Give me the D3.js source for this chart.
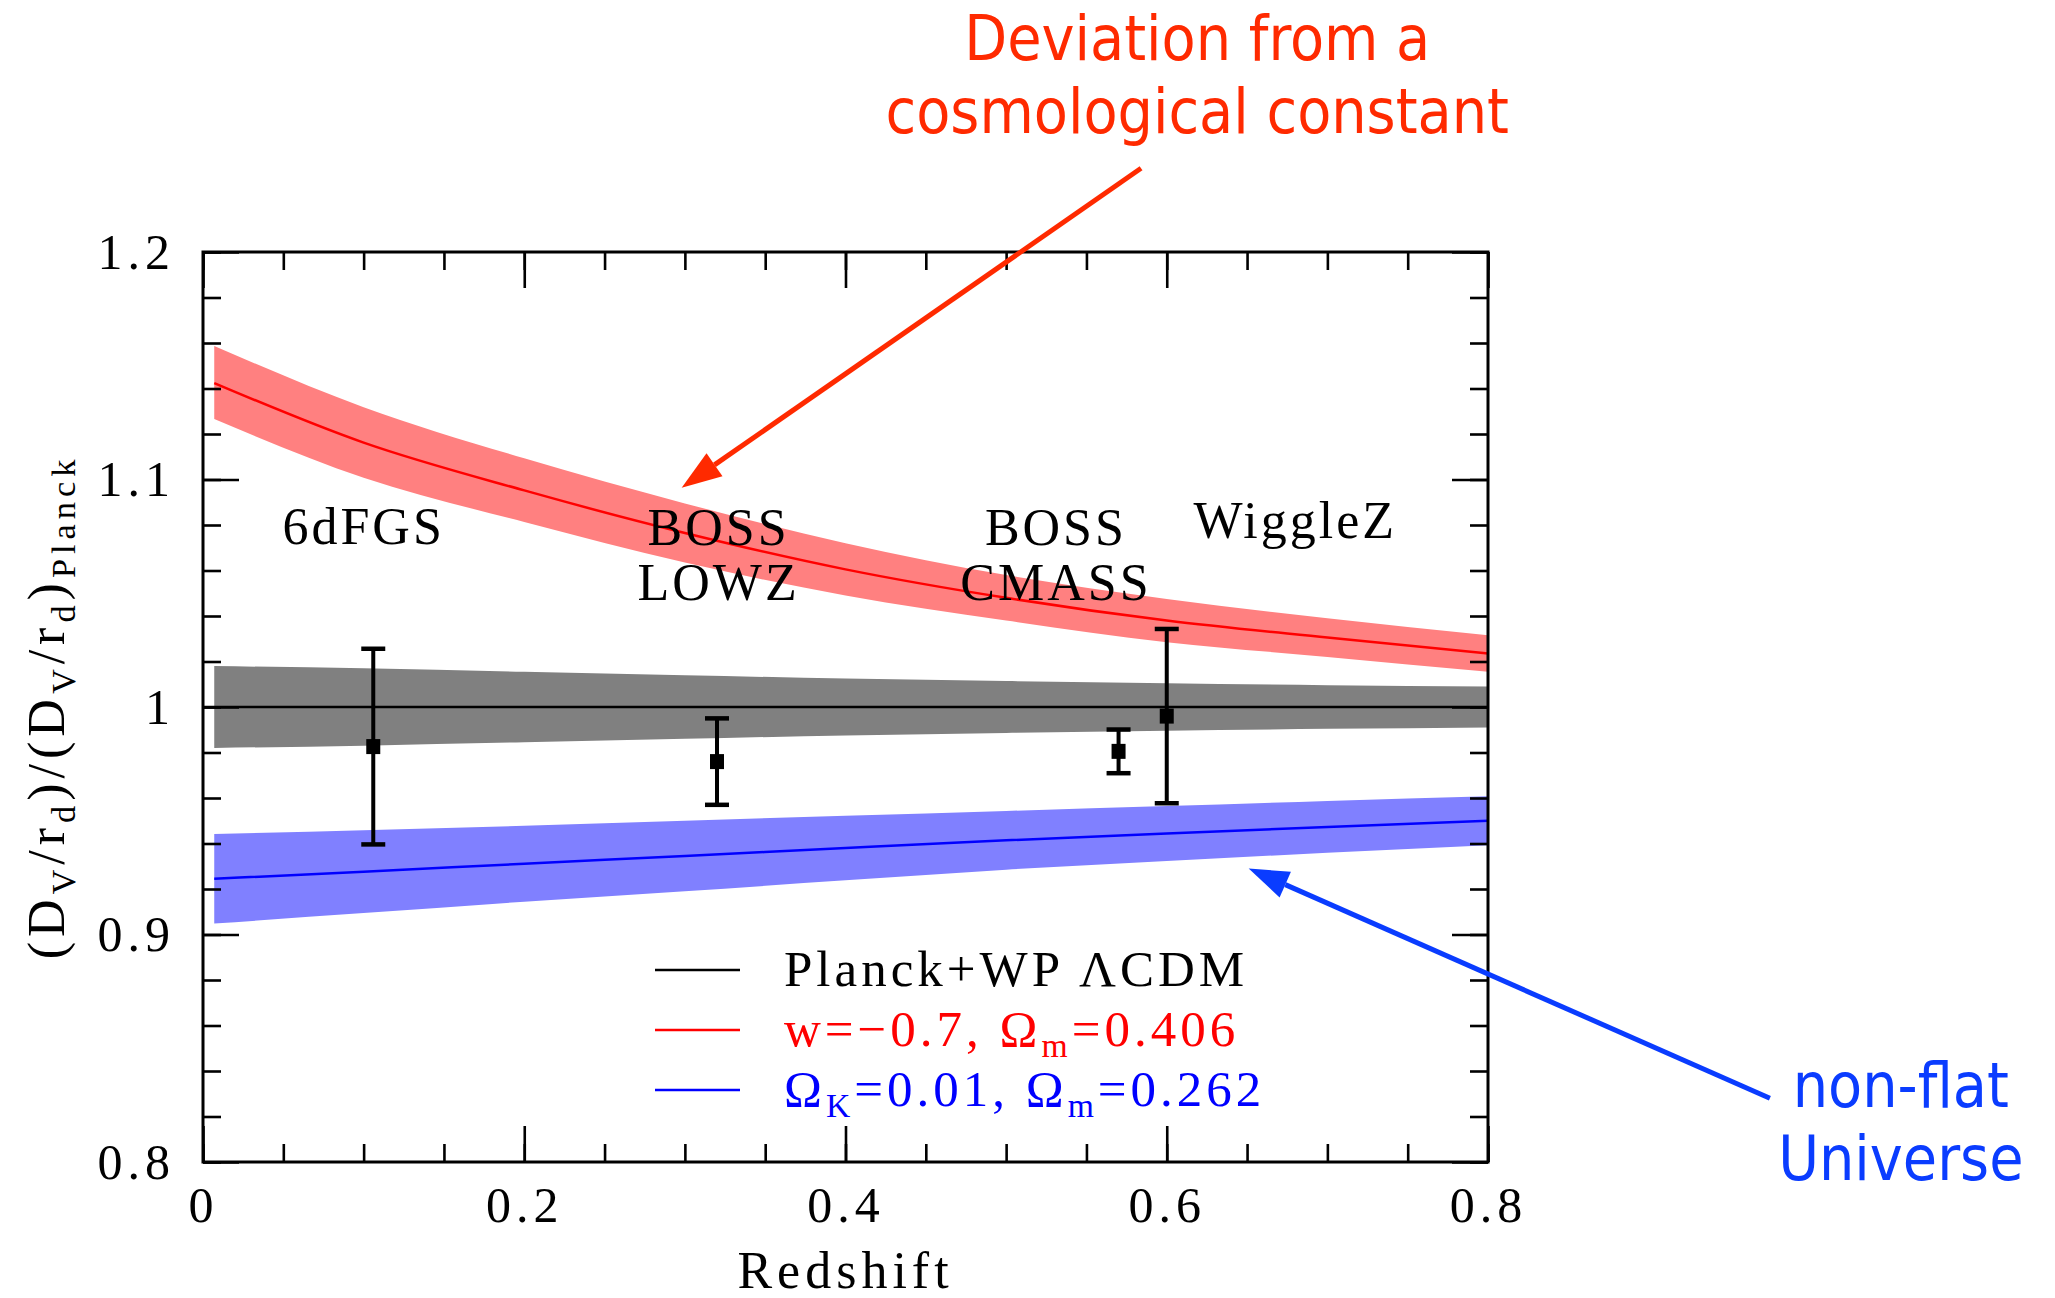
<!DOCTYPE html>
<html>
<head>
<meta charset="utf-8">
<script src="https://cdn.jsdelivr.net/npm/d3@7"></script>
<style>
  body { margin: 0; background: #fff; }
</style>
</head>
<body>
<svg id="chart"></svg>
<script>
const WIDTH = 2055;
const HEIGHT = 1298;

// model curves, sampled at these redshifts
const redshift = [0.007, 0.1, 0.2, 0.3, 0.4, 0.5, 0.6, 0.7, 0.8];
const lcdmMid = [1, 1, 1, 1, 1, 1, 1, 1, 1];
const lcdmHi = [1.018, 1.017, 1.0155, 1.014, 1.0125, 1.0114, 1.0104, 1.0096, 1.009];
const lcdmLo = [0.982, 0.983, 0.9845, 0.986, 0.9875, 0.9886, 0.9896, 0.9904, 0.991];
const wMid = [1.1424, 1.1162, 1.0952, 1.0765, 1.0605, 1.048, 1.038, 1.0305, 1.0235];
const wHi = [1.1587, 1.1318, 1.1093, 1.0895, 1.072, 1.058, 1.0475, 1.039, 1.0315];
const wLo = [1.1266, 1.1008, 1.0813, 1.0635, 1.049, 1.038, 1.0285, 1.022, 1.0155];
const okMid = [0.9245, 0.9276, 0.9311, 0.9345, 0.938, 0.9414, 0.9444, 0.9473, 0.95];
const okHi = [0.9442, 0.9458, 0.9478, 0.95, 0.9522, 0.9543, 0.9565, 0.9587, 0.9608];
const okLo = [0.9048, 0.9094, 0.9144, 0.919, 0.9238, 0.9285, 0.9323, 0.9359, 0.9392];

// BAO measurements
const surveyZ = [0.106, 0.32, 0.57, 0.6];
const surveyRatio = [0.9826, 0.976, 0.9805, 0.996];
const surveyErr = [0.043, 0.019, 0.0096, 0.0383];
const surveyLabels = [["6dFGS"], ["BOSS", "LOWZ"], ["BOSS", "CMASS"], ["WiggleZ"]];
const surveyLabelZ = [0.1, 0.321, 0.531, 0.68];
const surveyLabelV = [1.0717, 1.071, 1.071, 1.0745];

const xTicks = [0, 0.2, 0.4, 0.6, 0.8];
const yTicks = [0.8, 0.9, 1, 1.1, 1.2];

const margin = { top: 252, right: 567, bottom: 136, left: 203 };
const FONT_SERIF = "'Liberation Serif', 'DejaVu Serif', serif";
const FONT_SANS = "'DejaVu Sans Condensed', 'Liberation Sans Narrow', 'Open Sans', sans-serif";

const svg = d3.select("#chart").attr("width", WIDTH).attr("height", HEIGHT);

const x = d3.scaleLinear().domain([0, 0.8]).range([margin.left, WIDTH - margin.right]);
const y = d3.scaleLinear().domain([0.8, 1.2]).range([HEIGHT - margin.bottom, margin.top]);

const band = (hi, lo) =>
  d3.area()
    .x((d, i) => x(redshift[i]))
    .y0((d, i) => y(lo[i]))
    .y1((d, i) => y(hi[i]))
    .curve(d3.curveMonotoneX)(redshift);

const line = (vals) =>
  d3.line()
    .x((d, i) => x(redshift[i]))
    .y((d, i) => y(vals[i]))
    .curve(d3.curveMonotoneX)(redshift);

svg.append("path").attr("d", band(wHi, wLo)).attr("fill", "#ff8080");
svg.append("path").attr("d", band(lcdmHi, lcdmLo)).attr("fill", "#808080");
svg.append("path").attr("d", band(okHi, okLo)).attr("fill", "#8080ff");

svg.append("path").attr("d", line(wMid)).attr("fill", "none").attr("stroke", "#ff0000").attr("stroke-width", 2.5);
svg.append("line")
  .attr("x1", x(0)).attr("x2", x(0.8))
  .attr("y1", y(lcdmMid[0])).attr("y2", y(lcdmMid[0]))
  .attr("stroke", "#000").attr("stroke-width", 2.5);
svg.append("path").attr("d", line(okMid)).attr("fill", "none").attr("stroke", "#0000ff").attr("stroke-width", 2.5);

// axes: ticks on all four sides, pointing in
const styleAxis = (g) => {
  g.select(".domain").remove();
  g.selectAll(".tick line").attr("stroke", "#000").attr("stroke-width", 2.6);
  g.selectAll("text")
    .attr("font-family", FONT_SERIF)
    .attr("font-size", 50)
    .attr("letter-spacing", 5)
    .attr("fill", "#000");
};
const xMinor = d3.range(0, 0.801, 0.05);
const yMinor = d3.range(0.8, 1.201, 0.02);

svg.append("g").attr("transform", `translate(0,${y(0.8)})`)
  .call(d3.axisBottom(x).tickValues(xMinor).tickSize(-18).tickFormat(""))
  .call(styleAxis);
svg.append("g").attr("transform", `translate(0,${y(0.8)})`)
  .call(d3.axisBottom(x).tickValues(xTicks).tickSize(-36).tickPadding(24).tickFormat((d) => (d === 0 ? "0" : d3.format(".1f")(d))))
  .call(styleAxis);
svg.append("g").attr("transform", `translate(0,${y(1.2)})`)
  .call(d3.axisTop(x).tickValues(xMinor).tickSize(-18).tickFormat(""))
  .call(styleAxis);
svg.append("g").attr("transform", `translate(0,${y(1.2)})`)
  .call(d3.axisTop(x).tickValues(xTicks).tickSize(-36).tickFormat(""))
  .call(styleAxis);

svg.append("g").attr("transform", `translate(${x(0)},0)`)
  .call(d3.axisLeft(y).tickValues(yMinor).tickSize(-18).tickFormat(""))
  .call(styleAxis);
svg.append("g").attr("transform", `translate(${x(0)},0)`)
  .call(d3.axisLeft(y).tickValues(yTicks).tickSize(-36).tickPadding(28).tickFormat((d) => (d === 1 ? "1" : d3.format(".1f")(d))))
  .call(styleAxis);
svg.append("g").attr("transform", `translate(${x(0.8)},0)`)
  .call(d3.axisRight(y).tickValues(yMinor).tickSize(-18).tickFormat(""))
  .call(styleAxis);
svg.append("g").attr("transform", `translate(${x(0.8)},0)`)
  .call(d3.axisRight(y).tickValues(yTicks).tickSize(-36).tickFormat(""))
  .call(styleAxis);

svg.append("rect")
  .attr("x", x(0)).attr("y", y(1.2))
  .attr("width", x(0.8) - x(0)).attr("height", y(0.8) - y(1.2))
  .attr("fill", "none").attr("stroke", "#000").attr("stroke-width", 3);

// error bars
const pts = svg.append("g").selectAll("g").data(surveyZ).join("g");
pts.append("line")
  .attr("x1", (d) => x(d)).attr("x2", (d) => x(d))
  .attr("y1", (d, i) => y(surveyRatio[i] + surveyErr[i]))
  .attr("y2", (d, i) => y(surveyRatio[i] - surveyErr[i]))
  .attr("stroke", "#000").attr("stroke-width", 4);
[1, -1].forEach((s) => {
  pts.append("line")
    .attr("x1", (d) => x(d) - 12).attr("x2", (d) => x(d) + 12)
    .attr("y1", (d, i) => y(surveyRatio[i] + s * surveyErr[i]))
    .attr("y2", (d, i) => y(surveyRatio[i] + s * surveyErr[i]))
    .attr("stroke", "#000").attr("stroke-width", 4.5);
});
pts.append("rect")
  .attr("x", (d) => x(d) - 7).attr("y", (d, i) => y(surveyRatio[i]) - 7.5)
  .attr("width", 14).attr("height", 15).attr("fill", "#000");

// survey names
surveyLabels.forEach((lines, i) => {
  lines.forEach((t, j) => {
    svg.append("text")
      .attr("x", x(surveyLabelZ[i])).attr("y", y(surveyLabelV[i]) + j * 55)
      .attr("text-anchor", "middle")
      .attr("font-family", FONT_SERIF).attr("font-size", 52).attr("letter-spacing", 3)
      .text(t);
  });
});

// rich text helper: parts are [text, isSub]
const richText = (sel, parts, size) => {
  let sub = false;
  parts.forEach(([t, s]) => {
    const ts = sel.append("tspan").text(t);
    if (s && !sub) ts.attr("dy", size * 0.22).attr("font-size", size * 0.66);
    else if (!s && sub) ts.attr("dy", -size * 0.22);
    sub = s;
  });
};

// legend
const legendItems = [
  { color: "#000", parts: [["Planck+WP ΛCDM", 0]] },
  { color: "#ff0000", parts: [["w=−0.7, Ω", 0], ["m", 1], ["=0.406", 0]] },
  { color: "#0000ff", parts: [["Ω", 0], ["K", 1], ["=0.01, Ω", 0], ["m", 1], ["=0.262", 0]] },
];
legendItems.forEach((d, i) => {
  const yy = 970 + i * 60;
  svg.append("line").attr("x1", 655).attr("x2", 740).attr("y1", yy).attr("y2", yy)
    .attr("stroke", d.color).attr("stroke-width", 2.5);
  const t = svg.append("text").attr("x", 784).attr("y", yy + 16)
    .attr("font-family", FONT_SERIF).attr("font-size", 51).attr("letter-spacing", 4)
    .attr("fill", d.color);
  richText(t, d.parts, 51);
});

// axis titles
svg.append("text")
  .attr("x", (x(0) + x(0.8)) / 2).attr("y", 1288)
  .attr("text-anchor", "middle")
  .attr("font-family", FONT_SERIF).attr("font-size", 52).attr("letter-spacing", 5)
  .text("Redshift");

const yTitle = svg.append("text")
  .attr("transform", `translate(64,${(y(0.8) + y(1.2)) / 2}) rotate(-90)`)
  .attr("text-anchor", "middle")
  .attr("font-family", FONT_SERIF).attr("font-size", 52).attr("letter-spacing", 5);
richText(yTitle, [["(D", 0], ["V", 1], ["/r", 0], ["d", 1], [")/(D", 0], ["V", 1], ["/r", 0], ["d", 1], [")", 0], ["Planck", 1]], 52);

// annotations with arrows (positions in data units)
const arrow = (z0, v0, z1, v1, color) => {
  const x0 = x(z0), y0 = y(v0), x1 = x(z1), y1 = y(v1);
  const ang = Math.atan2(y1 - y0, x1 - x0);
  const L = 40, W = 14;
  const bx = x1 - L * Math.cos(ang), by = y1 - L * Math.sin(ang);
  svg.append("line").attr("x1", x0).attr("y1", y0).attr("x2", bx).attr("y2", by)
    .attr("stroke", color).attr("stroke-width", 5);
  svg.append("path")
    .attr("d", d3.line()([
      [x1, y1],
      [bx + W * Math.sin(ang), by - W * Math.cos(ang)],
      [bx - W * Math.sin(ang), by + W * Math.cos(ang)],
    ]) + "Z")
    .attr("fill", color);
};
arrow(0.584, 1.2368, 0.298, 1.0964, "#ff2a00");
arrow(0.9755, 0.828, 0.651, 0.929, "#0a3cff");

const note = (lines, z, v, color) => {
  lines.forEach((t, j) => {
    svg.append("text")
      .attr("x", x(z)).attr("y", y(v) + j * 73)
      .attr("text-anchor", "middle")
      .attr("font-family", FONT_SANS).attr("font-size", 62)
      .attr("fill", color)
      .text(t);
  });
};
note(["Deviation from a", "cosmological constant"], 0.619, 1.2846, "#ff2a00");
note(["non-flat", "Universe"], 1.057, 0.824, "#0a3cff");
</script>
</body>
</html>
